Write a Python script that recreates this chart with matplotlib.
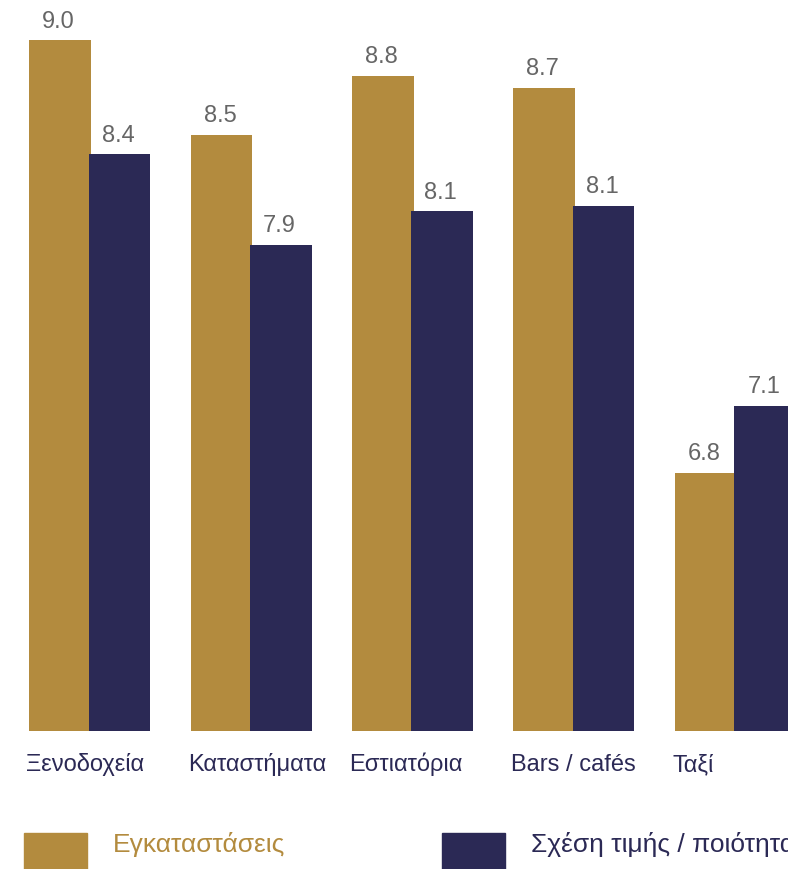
import matplotlib
matplotlib.use("Agg")
import matplotlib.pyplot as plt
from matplotlib.patches import Rectangle
import numpy as np

plt.rcParams['font.family'] = ['Liberation Sans', 'DejaVu Sans']

categories = ['Ξενοδοχεία', 'Καταστήματα', 'Εστιατόρια', 'Bars / cafés', 'Ταξί']
facilities = [8.97, 8.49, 8.79, 8.73, 6.77]      # Εγκαταστάσεις
value_for_money = [8.39, 7.93, 8.10, 8.13, 7.11]  # Σχέση τιμής / ποιότητα
series_names = ['Εγκαταστάσεις', 'Σχέση τιμής / ποιότητα']

gold = '#B38B3E'
navy = '#2B2955'
grey = '#666666'

fig = plt.figure(figsize=(7.88, 8.69), dpi=100)
ax = fig.add_axes([0, 0.1591, 1, 0.8409])

x = np.arange(len(categories))
w = 0.382
off = 0.184
b1 = ax.bar(x - off, facilities, w, color=gold)
b2 = ax.bar(x + off, value_for_money, w, color=navy)

ax.set_xlim(-0.556, 4.326)
ax.set_ylim(5.457, 9.176)

for bars, vals in [(b1, facilities), (b2, value_for_money)]:
    for r, v in zip(bars, vals):
        ax.annotate('{:.1f}'.format(v), xy=(r.get_x() + r.get_width() / 2, v),
                    xytext=(-1, 9), textcoords='offset points',
                    ha='center', va='baseline', fontsize=17, color=grey)

# category labels, left aligned under the gold bar
for i, c in enumerate(categories):
    ax.annotate(c, xy=(i - off - w / 2, 0), xycoords=('data', 'axes fraction'),
                xytext=(-2, -29), textcoords='offset points',
                ha='left', va='baseline', fontsize=17, color=navy)

ax.set_xticks([])
ax.set_yticks([])
for s in ax.spines.values():
    s.set_visible(False)

# legend
fig.patches.append(Rectangle((0.0305, 0), 0.08, 0.0418, transform=fig.transFigure,
                             color=gold, figure=fig))
fig.patches.append(Rectangle((0.561, 0), 0.08, 0.0418, transform=fig.transFigure,
                             color=navy, figure=fig))
fig.text(0.1434, 0.0199, series_names[0], fontsize=19, color=gold, va='baseline')
fig.text(0.674, 0.0199, series_names[1], fontsize=19, color=navy, va='baseline')

fig.savefig('out.png', dpi=100)
